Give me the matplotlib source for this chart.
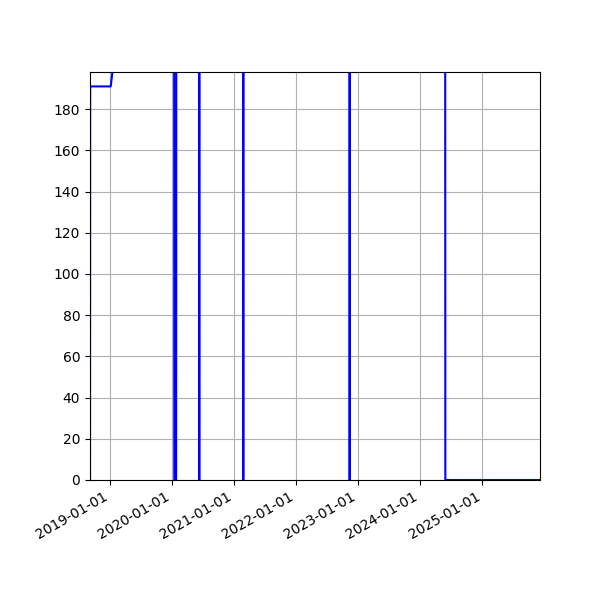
import pandas as pd
import numpy as np
import matplotlib.pyplot as plt
import matplotlib.dates as mdates
from matplotlib.ticker import MultipleLocator

# values; anything above the top of the axis is off-scale
dates = ['2018-09-06', '2018-09-07', '2019-01-06', '2019-01-26',
         '2020-01-14', '2020-01-15', '2020-01-26', '2020-01-27',
         '2020-06-09', '2020-06-10', '2020-06-11',
         '2021-02-23', '2021-02-24', '2021-02-25',
         '2022-11-11', '2022-11-12', '2022-11-13',
         '2024-05-27', '2024-05-28', '2025-12-06']
values = [0, 191, 191, 205,
          250, 0, 0, 250,
          250, 0, 250,
          250, 0, 250,
          250, 0, 250,
          250, 0, 0]

t = pd.to_datetime(dates)

fig, ax = plt.subplots(figsize=(6, 6), dpi=100)
ax.plot(t, values, color='b')
ax.set_xlim(t[0], t[-1])
ax.set_ylim(0, 198)
ax.yaxis.set_major_locator(MultipleLocator(20))
ax.xaxis.set_major_locator(mdates.YearLocator())
ax.xaxis.set_major_formatter(mdates.DateFormatter('%Y-%m-%d'))
ax.grid(True)
fig.autofmt_xdate()
fig.subplots_adjust(left=0.15, right=0.9, top=0.88, bottom=0.2)

plt.savefig('out.png')
